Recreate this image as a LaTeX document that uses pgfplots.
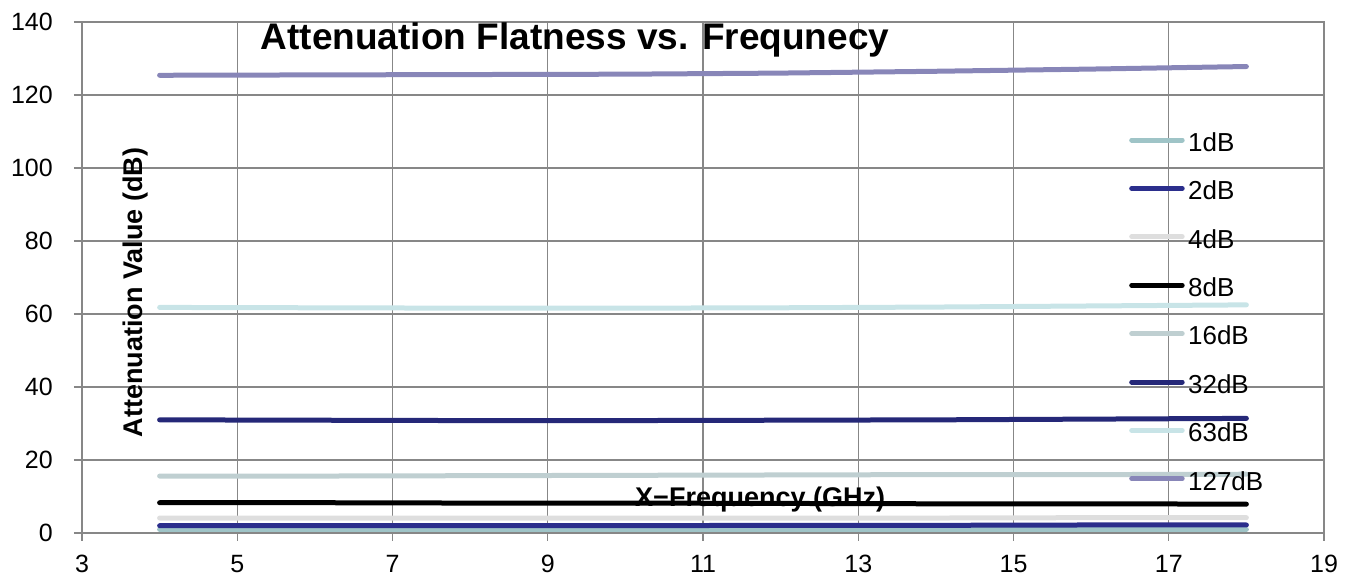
\documentclass[border=0pt]{standalone}
\usepackage{fontspec}
\setmainfont{Liberation Sans}
\usepackage{pgfplots}
\pgfplotsset{compat=1.18}

\definecolor{gridgray}{HTML}{878787}
\definecolor{cA}{HTML}{9FC4C7}
\definecolor{cB}{HTML}{2B2E8C}
\definecolor{cC}{HTML}{DEDEDE}
\definecolor{cD}{HTML}{000000}
\definecolor{cE}{HTML}{BFCFD1}
\definecolor{cF}{HTML}{252878}
\definecolor{cG}{HTML}{C8E4E7}
\definecolor{cH}{HTML}{8886B8}

\begin{document}
\begin{tikzpicture}
\begin{axis}[
  at={(0pt,0pt)}, anchor=south west,
  width=1242pt, height=511pt, scale only axis,
  xmin=3, xmax=19, ymin=0, ymax=140,
  xtick={3,5,...,19}, ytick={0,20,...,140},
  xtick pos=bottom, ytick pos=left,
  grid=major,
  major grid style={gridgray, line width=1.3pt},
  axis line style={gridgray, line width=1.3pt},
  tick style={gridgray, line width=1.3pt},
  tick align=outside, major tick length=8pt,
  tick label style={font=\fontsize{25}{29}\selectfont},
  xticklabel style={inner sep=0pt, yshift=-14pt},
  yticklabel style={inner sep=0pt, xshift=-21pt},
  /pgf/number format/assume math mode=true,
  title={Attenuation Flatness vs. Frequnecy},
  title style={at={(axis description cs:0.397,0.935)}, anchor=base,
    font=\bfseries\fontsize{37}{40}\selectfont},
  xlabel={X\textminus Frequency (GHz)},
  xlabel style={at={(axis description cs:0.546,0.051)}, anchor=base,
    font=\bfseries\fontsize{27}{30}\selectfont},
  ylabel={Attenuation Value (dB)},
  ylabel style={at={(axis description cs:0.043,0.471)}, anchor=center,
    font=\bfseries\fontsize{27}{30}\selectfont},
  every axis plot/.append style={line width=5pt, line cap=round},
  legend cell align=left,
  legend image code/.code={
    \path[draw=none] (0pt,0pt) rectangle (50.5pt,17.2pt);
    \draw[#1, line width=5pt, line cap=round] (0pt,2.6pt) -- (50.5pt,2.6pt);
  },
  legend style={at={(axis description cs:0.843,0.798)}, anchor=north west,
    draw=none, fill=none, inner sep=0pt, row sep=22.6pt, column sep=3.4pt,
    font=\fontsize{26}{30}\selectfont,
    nodes={inner sep=0pt, text height=17.2pt, text depth=0pt}},
]
\addplot[cA] coordinates {(4,1.0) (6,1.0) (8,1.0) (10,1.0) (12,1.0) (14,1.0) (16,1.0) (18,1.0)};
\addplot[cB] coordinates {(4,2.0) (6,2.0) (8,2.0) (10,2.0) (12,2.1) (14,2.1) (16,2.2) (18,2.2)};
\addplot[cC] coordinates {(4,4.1) (6,4.1) (8,4.1) (10,4.1) (12,4.1) (14,4.1) (16,4.2) (18,4.2)};
\addplot[cD] coordinates {(4,8.3) (6,8.3) (8,8.2) (10,8.2) (12,8.1) (14,8.0) (16,8.0) (18,7.9)};
\addplot[cE] coordinates {(4,15.6) (6,15.6) (8,15.7) (10,15.8) (12,15.9) (14,16.0) (16,16.0) (18,16.1)};
\addplot[cF] coordinates {(4,31.0) (6,30.9) (8,30.8) (10,30.8) (12,30.9) (14,31.0) (16,31.2) (18,31.4)};
\addplot[cG] coordinates {(4,61.8) (6,61.7) (8,61.6) (10,61.6) (12,61.7) (14,61.9) (16,62.2) (18,62.5)};
\addplot[cH] coordinates {(4,125.4) (6,125.5) (8,125.6) (10,125.7) (12,126.0) (14,126.5) (16,127.1) (18,127.8)};
\legend{1dB,2dB,4dB,8dB,16dB,32dB,63dB,127dB}
\end{axis}
\pgfresetboundingbox
\path[use as bounding box] (-82pt,-47pt) rectangle (1267pt,533pt);
\end{tikzpicture}
\end{document}
